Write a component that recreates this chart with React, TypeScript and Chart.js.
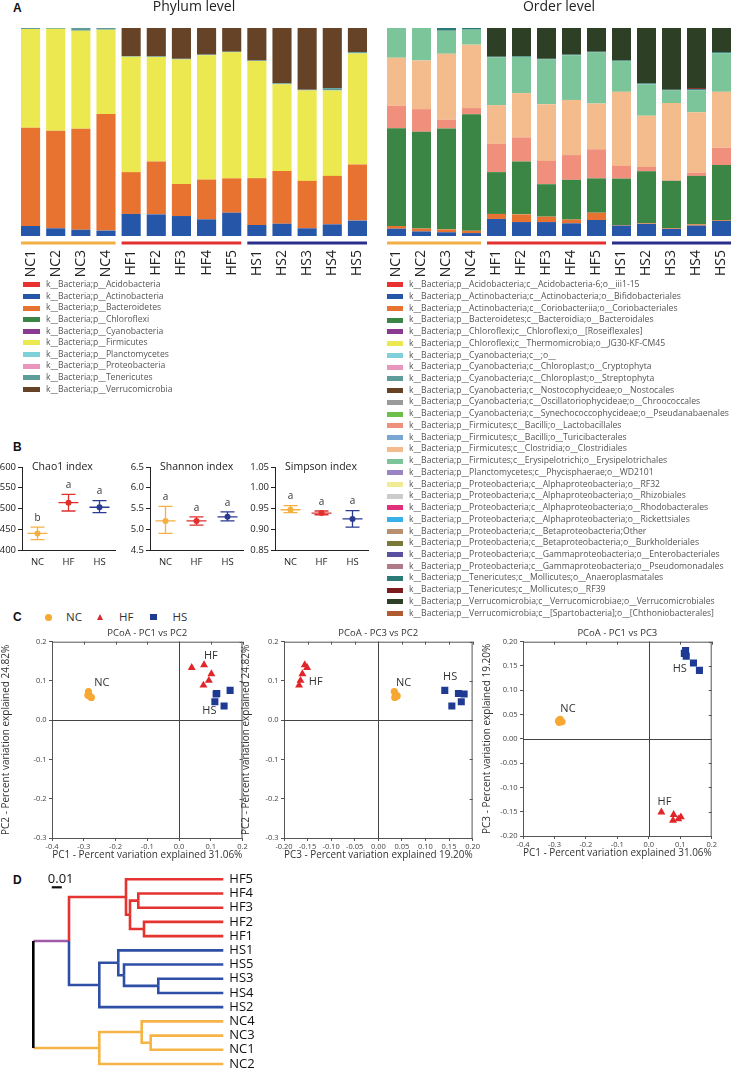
import React, { useEffect, useRef } from 'react';
import { Chart, registerables } from 'chart.js';

Chart.register(...registerables);

const FONT = '"Open Sans", "DejaVu Sans", Arial, sans-serif';
Chart.defaults.font.family = FONT;
Chart.defaults.color = '#333';

// ---------------- Panel A data ----------------
const samples = ['NC1', 'NC2', 'NC3', 'NC4', 'HF1', 'HF2', 'HF3', 'HF4', 'HF5', 'HS1', 'HS2', 'HS3', 'HS4', 'HS5'];
const groupNames = ['NC', 'HF', 'HS'];
const groupSizes = [4, 5, 5];
const groupLineColors = ['#f2b044', '#e2302f', '#2b2f8c'];

const phylumLegend = [
  'k__Bacteria;p__Acidobacteria',
  'k__Bacteria;p__Actinobacteria',
  'k__Bacteria;p__Bacteroidetes',
  'k__Bacteria;p__Chloroflexi',
  'k__Bacteria;p__Cyanobacteria',
  'k__Bacteria;p__Firmicutes',
  'k__Bacteria;p__Planctomycetes',
  'k__Bacteria;p__Proteobacteria',
  'k__Bacteria;p__Tenericutes',
  'k__Bacteria;p__Verrucomicrobia',
];
const phylumColors = ['#e8322f', '#2556a8', '#e87230', '#3b8545', '#8a3a90', '#ece84f', '#7fd0d8', '#e896be', '#5d9c98', '#664326'];

// percent abundance per sample (bottom to top of each bar)
const phylumActinobacteria = [4.8, 3.7, 3.0, 2.6, 10.6, 10.4, 9.6, 8.0, 11.2, 5.3, 5.9, 3.7, 5.6, 7.4];
const phylumBacteroidetes = [47.2, 46.9, 48.6, 56.0, 20.1, 25.4, 15.4, 19.1, 16.5, 22.5, 25.4, 22.8, 23.3, 27.0];
const phylumFirmicutes = [47.5, 49.0, 47.1, 40.6, 55.5, 50.3, 59.9, 59.8, 60.6, 56.3, 41.6, 43.5, 41.1, 53.4];
const phylumTenericutes = [0.5, 0.4, 1.3, 0.8, 0.3, 0.3, 0.3, 0.3, 0.3, 0.3, 0.5, 0.3, 1.1, 0.6];
const phylumVerrucomicrobia = [0, 0, 0, 0, 13.5, 13.6, 14.8, 12.8, 11.4, 15.6, 26.6, 29.7, 28.9, 11.6];

const orderLegend = [
  'k__Bacteria;p__Acidobacteria;c__Acidobacteria-6;o__iii1-15',
  'k__Bacteria;p__Actinobacteria;c__Actinobacteria;o__Bifidobacteriales',
  'k__Bacteria;p__Actinobacteria;c__Coriobacteriia;o__Coriobacteriales',
  'k__Bacteria;p__Bacteroidetes;c__Bacteroidia;o__Bacteroidales',
  'k__Bacteria;p__Chloroflexi;c__Chloroflexi;o__[Roseiflexales]',
  'k__Bacteria;p__Chloroflexi;c__Thermomicrobia;o__JG30-KF-CM45',
  'k__Bacteria;p__Cyanobacteria;c__;o__',
  'k__Bacteria;p__Cyanobacteria;c__Chloroplast;o__Cryptophyta',
  'k__Bacteria;p__Cyanobacteria;c__Chloroplast;o__Streptophyta',
  'k__Bacteria;p__Cyanobacteria;c__Nostocophycideae;o__Nostocales',
  'k__Bacteria;p__Cyanobacteria;c__Oscillatoriophycideae;o__Chroococcales',
  'k__Bacteria;p__Cyanobacteria;c__Synechococcophycideae;o__Pseudanabaenales',
  'k__Bacteria;p__Firmicutes;c__Bacilli;o__Lactobacillales',
  'k__Bacteria;p__Firmicutes;c__Bacilli;o__Turicibacterales',
  'k__Bacteria;p__Firmicutes;c__Clostridia;o__Clostridiales',
  'k__Bacteria;p__Firmicutes;c__Erysipelotrichi;o__Erysipelotrichales',
  'k__Bacteria;p__Planctomycetes;c__Phycisphaerae;o__WD2101',
  'k__Bacteria;p__Proteobacteria;c__Alphaproteobacteria;o__RF32',
  'k__Bacteria;p__Proteobacteria;c__Alphaproteobacteria;o__Rhizobiales',
  'k__Bacteria;p__Proteobacteria;c__Alphaproteobacteria;o__Rhodobacterales',
  'k__Bacteria;p__Proteobacteria;c__Alphaproteobacteria;o__Rickettsiales',
  'k__Bacteria;p__Proteobacteria;c__Betaproteobacteria;Other',
  'k__Bacteria;p__Proteobacteria;c__Betaproteobacteria;o__Burkholderiales',
  'k__Bacteria;p__Proteobacteria;c__Gammaproteobacteria;o__Enterobacteriales',
  'k__Bacteria;p__Proteobacteria;c__Gammaproteobacteria;o__Pseudomonadales',
  'k__Bacteria;p__Tenericutes;c__Mollicutes;o__Anaeroplasmatales',
  'k__Bacteria;p__Tenericutes;c__Mollicutes;o__RF39',
  'k__Bacteria;p__Verrucomicrobia;c__Verrucomicrobiae;o__Verrucomicrobiales',
  'k__Bacteria;p__Verrucomicrobia;c__[Spartobacteria];o__[Chthoniobacterales]',
];
const orderColors = [
  '#e8322f', '#2556a8', '#e87230', '#3b8545', '#8a3a90', '#ece84f', '#7fd0d8', '#e896be', '#5d9c98', '#664326',
  '#9a9a9a', '#6cc04a', '#ef8f7c', '#7aa6d4', '#f4bb8c', '#7cc59b', '#9a84c4', '#f0ec96', '#cccccc', '#e0307a',
  '#3ab0e8', '#b89070', '#7a7a38', '#5a50a0', '#b07a88', '#2c7a78', '#7d1c1c', '#2d3f25', '#b05a30',
];

const orderBifidobacteriales = [3.5, 2.2, 1.8, 1.4, 8.2, 6.7, 6.7, 6.1, 7.7, 5.0, 5.8, 3.4, 5.0, 7.2];
const orderCoriobacteriales = [1.3, 1.4, 1.4, 1.1, 2.4, 3.7, 2.6, 1.8, 3.5, 0.3, 0.3, 0.3, 0.6, 0.3];
const orderBacteroidales = [47.0, 46.5, 48.5, 56.0, 20.1, 25.4, 15.6, 19.1, 16.5, 22.3, 25.0, 22.8, 23.3, 26.6];
const orderLactobacillales = [10.8, 10.9, 4.2, 3.0, 13.6, 11.6, 11.2, 11.9, 14.0, 6.1, 2.1, 0.3, 1.6, 8.3];
const orderClostridiales = [23.1, 23.4, 31.7, 30.5, 18.6, 21.3, 27.3, 26.5, 22.0, 35.6, 24.6, 37.1, 29.0, 26.9];
const orderErysipelotrichales = [14.3, 15.6, 11.1, 7.2, 23.0, 17.4, 21.5, 21.5, 24.6, 14.8, 15.1, 6.1, 10.6, 18.6];
const orderAnaeroplasmatales = [0, 0, 1.3, 0.8, 0.3, 0.3, 0.3, 0.3, 0.3, 0.3, 0.5, 0.3, 0.5, 0.5];
const orderRF39 = [0, 0, 0, 0, 0, 0, 0, 0, 0, 0, 0, 0, 0.5, 0];
const orderVerrucomicrobiales = [0, 0, 0, 0, 13.8, 13.6, 14.8, 12.8, 11.4, 15.6, 26.6, 29.7, 28.9, 11.6];

const phylumStack = [
  { idx: 1, data: phylumActinobacteria },
  { idx: 2, data: phylumBacteroidetes },
  { idx: 5, data: phylumFirmicutes },
  { idx: 8, data: phylumTenericutes },
  { idx: 9, data: phylumVerrucomicrobia },
].map((s) => ({ name: phylumLegend[s.idx], color: phylumColors[s.idx], data: s.data }));

const orderStack = [
  { idx: 1, data: orderBifidobacteriales },
  { idx: 2, data: orderCoriobacteriales },
  { idx: 3, data: orderBacteroidales },
  { idx: 12, data: orderLactobacillales },
  { idx: 14, data: orderClostridiales },
  { idx: 15, data: orderErysipelotrichales },
  { idx: 25, data: orderAnaeroplasmatales },
  { idx: 26, data: orderRF39 },
  { idx: 27, data: orderVerrucomicrobiales },
].map((s) => ({ name: orderLegend[s.idx], color: orderColors[s.idx], data: s.data }));

// ---------------- Panel B data ----------------
const alphaColors = ['#f5b041', '#e0312f', '#2b3a93'];
const chaoMean = [440, 514, 503];
const chaoLow = [425, 494, 490];
const chaoHigh = [455, 534, 519];
const chaoLetters = ['b', 'a', 'a'];
const shannonMean = [5.2, 5.2, 5.3];
const shannonLow = [4.9, 5.1, 5.2];
const shannonHigh = [5.55, 5.3, 5.42];
const shannonLetters = ['a', 'a', 'a'];
const simpsonMean = [0.947, 0.939, 0.925];
const simpsonLow = [0.94, 0.935, 0.905];
const simpsonHigh = [0.957, 0.944, 0.945];
const simpsonLetters = ['a', 'a', 'a'];

// ---------------- Panel C data ----------------
const pcoaColors = ['#f6a832', '#e0262a', '#1f3a93'];
const pc1NC = [-0.285, -0.287, -0.282, -0.276];
const pc2NC = [0.073, 0.064, 0.062, 0.058];
const pc3NC = [0.034, 0.037, 0.040, 0.035];
const pc1HF = [0.040, 0.079, 0.102, 0.094, 0.077];
const pc2HF = [0.134, 0.141, 0.118, 0.101, 0.089];
const pc3HF = [-0.151, -0.156, -0.161, -0.165, -0.168];
const pc1HS = [0.117, 0.119, 0.161, 0.113, 0.142];
const pc2HS = [0.067, 0.068, 0.076, 0.047, 0.036];
const pc3HS = [0.182, 0.170, 0.141, 0.176, 0.156];
const pcoaAxes: Record<string, number[][]> = {
  PC1: [pc1NC, pc1HF, pc1HS],
  PC2: [pc2NC, pc2HF, pc2HS],
  PC3: [pc3NC, pc3HF, pc3HS],
};
const pcoaExplained: Record<string, string> = { PC1: '31.06%', PC2: '24.82%', PC3: '19.20%' };

// ---------------- Panel D data ----------------
const treeLeaves = ['HF5', 'HF4', 'HF3', 'HF2', 'HF1', 'HS1', 'HS5', 'HS3', 'HS4', 'HS2', 'NC4', 'NC3', 'NC1', 'NC2'];
const treeLeafDepth = 0.19;
const treeMergeA = ['HF4', 'HF2', 'm0', 'HF5', 'HS3', 'HS5', 'HS1', 'm6', 'm3', 'NC3', 'NC4', 'm10', 'm8'];
const treeMergeB = ['HF3', 'HF1', 'm1', 'm2', 'HS4', 'm4', 'm5', 'HS2', 'm7', 'NC1', 'm9', 'NC2', 'm11'];
const treeMergeDepth = [0.105, 0.1107, 0.0967, 0.0927, 0.125, 0.0907, 0.085, 0.066, 0.0357, 0.1174, 0.1084, 0.066, 0];
const treeColors = ['#f7b446', '#e5332f', '#2f4fa6'];
const treeMixColor = '#a05aa8';
const treeRootColor = '#000000';
const treeScaleBar = 0.01;

// ---------------- plugins ----------------
const groupLinePlugin = {
  id: 'groupLines',
  afterDraw(chart: any, _a: any, o: any) {
    const ctx = chart.ctx;
    const xs = chart.scales.x;
    const bw = chart.getDatasetMeta(0).data[0].width;
    let start = 0;
    groupSizes.forEach((n, g) => {
      const l = xs.getPixelForValue(start) - bw / 2;
      const r = xs.getPixelForValue(start + n - 1) + bw / 2;
      const y = chart.chartArea.bottom + o.gap;
      ctx.save();
      ctx.strokeStyle = groupLineColors[g];
      ctx.lineWidth = 3;
      ctx.beginPath();
      ctx.moveTo(l, y);
      ctx.lineTo(r, y);
      ctx.stroke();
      ctx.restore();
      start += n;
    });
  },
};

const errorBarPlugin = {
  id: 'errorBars',
  beforeDatasetsDraw(chart: any, _a: any, o: any) {
    const ctx = chart.ctx;
    const xs = chart.scales.x;
    const ys = chart.scales.y;
    const mean = chart.data.datasets[0].data;
    ctx.save();
    mean.forEach((m: number, i: number) => {
      const cx = xs.getPixelForValue(i);
      const yl = ys.getPixelForValue(o.low[i]);
      const yh = ys.getPixelForValue(o.high[i]);
      const ym = ys.getPixelForValue(m);
      ctx.strokeStyle = alphaColors[i];
      ctx.lineWidth = 1.3;
      ctx.beginPath();
      ctx.moveTo(cx, yl);
      ctx.lineTo(cx, yh);
      ctx.moveTo(cx - 7, yl);
      ctx.lineTo(cx + 7, yl);
      ctx.moveTo(cx - 7, yh);
      ctx.lineTo(cx + 7, yh);
      ctx.moveTo(cx - 10, ym);
      ctx.lineTo(cx + 10, ym);
      ctx.stroke();
      ctx.fillStyle = '#333';
      ctx.font = `10px ${FONT}`;
      ctx.textAlign = 'center';
      ctx.textBaseline = 'middle';
      ctx.fillText(o.letters[i], cx, yh - 9);
    });
    ctx.fillStyle = '#222';
    ctx.font = `10.5px ${FONT}`;
    ctx.textAlign = 'left';
    ctx.textBaseline = 'middle';
    ctx.fillText(o.title, chart.chartArea.left + 10, chart.chartArea.top);
    ctx.restore();
  },
};

const pcoaPlugin = {
  id: 'pcoaFrame',
  beforeDatasetsDraw(chart: any, _a: any, o: any) {
    const ctx = chart.ctx;
    const ca = chart.chartArea;
    const xs = chart.scales.x;
    const ys = chart.scales.y;
    ctx.save();
    ctx.strokeStyle = '#555';
    ctx.lineWidth = 1;
    ctx.beginPath();
    ctx.moveTo(ca.left, ca.top + 0.5);
    ctx.lineTo(ca.right, ca.top + 0.5);
    ctx.moveTo(ca.right - 0.5, ca.top);
    ctx.lineTo(ca.right - 0.5, ca.bottom);
    xs.ticks.forEach((t: any) => {
      const px = Math.round(xs.getPixelForValue(t.value)) + 0.5;
      ctx.moveTo(px, ca.top);
      ctx.lineTo(px, ca.top + 3);
    });
    ys.ticks.forEach((t: any) => {
      const py = Math.round(ys.getPixelForValue(t.value)) + 0.5;
      ctx.moveTo(ca.right, py);
      ctx.lineTo(ca.right - 3, py);
    });
    ctx.stroke();
    ctx.strokeStyle = '#444';
    ctx.beginPath();
    const x0 = Math.round(xs.getPixelForValue(0)) + 0.5;
    const y0 = Math.round(ys.getPixelForValue(0)) + 0.5;
    ctx.moveTo(x0, ca.top);
    ctx.lineTo(x0, ca.bottom);
    ctx.moveTo(ca.left, y0);
    ctx.lineTo(ca.right, y0);
    ctx.stroke();
    ctx.fillStyle = '#333';
    ctx.font = `9.5px ${FONT}`;
    ctx.textAlign = 'center';
    ctx.textBaseline = 'middle';
    ctx.fillText(o.title, (ca.left + ca.right) / 2, ca.top - 8);
    ctx.restore();
  },
  afterDatasetsDraw(chart: any, _a: any, o: any) {
    const ctx = chart.ctx;
    ctx.save();
    ctx.fillStyle = '#333';
    ctx.font = `11px ${FONT}`;
    ctx.textAlign = 'center';
    ctx.textBaseline = 'middle';
    chart.data.datasets.forEach((ds: any, i: number) => {
      const pts = chart.getDatasetMeta(i).data;
      const cx = pts.reduce((s: number, p: any) => s + p.x, 0) / pts.length;
      const cy = pts.reduce((s: number, p: any) => s + p.y, 0) / pts.length;
      ctx.fillText(ds.label, cx + o.offsets[i][0], cy + o.offsets[i][1]);
    });
    ctx.restore();
  },
};

const treePlugin = {
  id: 'treeLabels',
  afterDraw(chart: any) {
    const ctx = chart.ctx;
    const xs = chart.scales.x;
    const ys = chart.scales.y;
    ctx.save();
    ctx.fillStyle = '#111';
    ctx.font = `13px ${FONT}`;
    ctx.textAlign = 'left';
    ctx.textBaseline = 'middle';
    treeLeaves.forEach((n, i) => {
      ctx.fillText(n, xs.getPixelForValue(treeLeafDepth) + 6, ys.getPixelForValue(i));
    });
    // scale bar
    const len = xs.getPixelForValue(treeScaleBar) - xs.getPixelForValue(0);
    const bx = chart.chartArea.left + 28.5;
    const by = ys.getPixelForValue(0);
    ctx.font = `13px ${FONT}`;
    ctx.fillStyle = '#111';
    ctx.fillText(String(treeScaleBar), bx - 4, by);
    ctx.strokeStyle = '#111';
    ctx.lineWidth = 2.2;
    ctx.beginPath();
    ctx.moveTo(bx, by + 8);
    ctx.lineTo(bx + len, by + 8);
    ctx.stroke();
    ctx.restore();
  },
};

function noSidePadding(s: any) {
  s.paddingLeft = 0;
  s.paddingRight = 0;
}

// ---------------- configs ----------------
function stackedConfig(title: string, stack: { name: string; color: string; data: number[] }[], padLeft: number, padRight: number) {
  return {
    type: 'bar',
    data: {
      labels: samples,
      datasets: stack.map((s) => ({
        label: s.name,
        data: s.data,
        backgroundColor: s.color,
        borderWidth: 0,
        barPercentage: 0.76,
        categoryPercentage: 1,
      })),
    },
    options: {
      responsive: false,
      animation: false,
      layout: { padding: { left: padLeft, right: padRight, top: 0, bottom: 0 } },
      plugins: {
        legend: { display: false },
        tooltip: { enabled: false },
        title: {
          display: true,
          text: title,
          color: '#222',
          font: { family: FONT, size: 14, weight: 'normal' },
          padding: { top: 0, bottom: 12.2 },
        },
        groupLines: { gap: 7 },
      },
      scales: {
        x: {
          stacked: true,
          grid: { display: false, drawTicks: false },
          border: { display: false },
          ticks: { minRotation: 90, maxRotation: 90, autoSkip: false, padding: 14, color: '#222', font: { family: FONT, size: 14 } },
          afterFit: (s: any) => {
            s.height = 46;
            noSidePadding(s);
          },
        },
        y: { stacked: true, display: false, min: 0, max: 100 },
      },
    },
    plugins: [groupLinePlugin],
  };
}

function fmt(v: number, d: number) {
  const n = Math.abs(v) < 1e-9 ? 0 : v;
  return n.toFixed(d);
}

function indexConfig(
  title: string,
  mean: number[],
  low: number[],
  high: number[],
  letters: string[],
  min: number,
  max: number,
  step: number,
  dec: number,
  yWidth: number,
  padRight: number
) {
  return {
    type: 'line',
    data: {
      labels: groupNames,
      datasets: [
        {
          data: mean,
          showLine: false,
          pointRadius: 3,
          pointHoverRadius: 3,
          pointBackgroundColor: alphaColors,
          pointBorderWidth: 0,
        },
      ],
    },
    options: {
      responsive: false,
      animation: false,
      layout: { padding: { top: 12, right: padRight, left: 0, bottom: 0 } },
      plugins: { legend: { display: false }, tooltip: { enabled: false }, errorBars: { title, low, high, letters } },
      scales: {
        x: {
          offset: true,
          grid: { display: false, drawTicks: false },
          border: { color: '#222' },
          ticks: { padding: 7, color: '#222', font: { size: 9.5 } },
          afterFit: (s: any) => {
            s.height = 22;
            noSidePadding(s);
          },
        },
        y: {
          min,
          max,
          ticks: { stepSize: step, padding: 2, color: '#222', font: { size: 9.5 }, callback: (v: any) => fmt(Number(v), dec) },
          grid: { drawOnChartArea: false, tickLength: 4, color: '#222' },
          border: { color: '#222' },
          afterFit: (s: any) => {
            s.width = yWidth;
          },
        },
      },
    },
    plugins: [errorBarPlugin],
  };
}

const markerStyles = ['circle', 'triangle', 'rect'];
const markerRadius = [3.6, 4.6, 5];

function pcoaConfig(
  xKey: string,
  yKey: string,
  xr: [number, number, number, number],
  yr: [number, number, number, number],
  yWidth: number,
  yTitlePad: number,
  padRight: number,
  offsets: number[][]
) {
  return {
    type: 'scatter',
    data: {
      datasets: groupNames.map((g, i) => ({
        label: g,
        data: pcoaAxes[xKey][i].map((v, j) => ({ x: v, y: pcoaAxes[yKey][i][j] })),
        pointStyle: markerStyles[i],
        pointRadius: markerRadius[i],
        pointHoverRadius: markerRadius[i],
        backgroundColor: pcoaColors[i],
        borderWidth: 0,
      })),
    },
    options: {
      responsive: false,
      animation: false,
      layout: { padding: { top: 19.7, right: padRight, left: 0, bottom: 0 } },
      plugins: {
        legend: { display: false },
        tooltip: { enabled: false },
        pcoaFrame: { title: `PCoA - ${xKey} vs ${yKey}`, offsets },
      },
      scales: {
        x: {
          type: 'linear',
          min: xr[0],
          max: xr[1],
          ticks: { stepSize: xr[2], padding: 1, color: '#444', font: { size: 7.5 }, callback: (v: any) => fmt(Number(v), xr[3]) },
          grid: { drawOnChartArea: false, tickLength: 3, color: '#555' },
          border: { color: '#555' },
          title: {
            display: true,
            text: `${xKey} - Percent variation explained ${pcoaExplained[xKey]}`,
            color: '#333',
            font: { size: 10 },
            padding: { top: 0, bottom: 5 },
          },
          afterFit: (s: any) => {
            s.height = 28;
            noSidePadding(s);
          },
        },
        y: {
          type: 'linear',
          min: yr[0],
          max: yr[1],
          ticks: { stepSize: yr[2], padding: 2.5, color: '#444', font: { size: 7.5 }, callback: (v: any) => fmt(Number(v), yr[3]) },
          grid: { drawOnChartArea: false, tickLength: 3, color: '#555' },
          border: { color: '#555' },
          title: {
            display: true,
            text: `${yKey} - Percent variation explained ${pcoaExplained[yKey]}`,
            color: '#333',
            font: { size: 10 },
            padding: { top: yTitlePad, bottom: 0 },
          },
          afterFit: (s: any) => {
            s.width = yWidth;
          },
        },
      },
    },
    plugins: [pcoaPlugin],
  };
}

function treeSegments() {
  const pos: Record<string, { x: number; y: number; color: string }> = {};
  treeLeaves.forEach((n, i) => {
    pos[n] = { x: treeLeafDepth, y: i, color: treeColors[groupNames.indexOf(n.slice(0, 2))] };
  });
  const segs: { pts: { x: number; y: number }[]; color: string }[] = [];
  const rootSegs: typeof segs = [];
  const last = treeMergeDepth.length - 1;
  treeMergeDepth.forEach((d, k) => {
    const a = pos[treeMergeA[k]];
    const b = pos[treeMergeB[k]];
    const isRoot = k === last;
    const color = a.color === b.color ? a.color : isRoot ? treeRootColor : treeMixColor;
    const node = { x: d, y: (a.y + b.y) / 2, color };
    [a, b].forEach((c) => {
      if (isRoot) segs.push({ pts: [{ x: d, y: c.y }, { x: c.x, y: c.y }], color: c.color });
      else segs.push({ pts: [{ x: d, y: node.y }, { x: d, y: c.y }, { x: c.x, y: c.y }], color: c.color });
    });
    if (isRoot) rootSegs.push({ pts: [{ x: d, y: a.y }, { x: d, y: b.y }], color: treeRootColor });
    pos['m' + k] = node;
  });
  return [...rootSegs, ...segs];
}

function treeConfig() {
  return {
    type: 'scatter',
    data: {
      datasets: treeSegments().map((s) => ({
        data: s.pts,
        showLine: true,
        borderColor: s.color,
        borderWidth: 2.6,
        borderJoinStyle: 'miter',
        pointRadius: 0,
        pointHoverRadius: 0,
        clip: false,
        tension: 0,
      })),
    },
    options: {
      responsive: false,
      animation: false,
      layout: { padding: { left: 23.3, right: 156.7, top: 17.3, bottom: 5 } },
      plugins: { legend: { display: false }, tooltip: { enabled: false } },
      scales: {
        x: { type: 'linear', display: false, min: -0.01, max: 0.19 },
        y: { type: 'linear', display: false, min: 0, max: 13, reverse: true },
      },
    },
    plugins: [treePlugin],
  };
}

// ---------------- components ----------------
function ChartBox({ left, top, width, height, make }: { left: number; top: number; width: number; height: number; make: () => any }) {
  const ref = useRef<HTMLCanvasElement>(null);
  useEffect(() => {
    const chart = new Chart(ref.current as HTMLCanvasElement, make());
    return () => chart.destroy();
  }, []);
  return (
    <canvas
      ref={ref}
      width={width}
      height={height}
      style={{ position: 'absolute', left, top, width, height, display: 'block' }}
    />
  );
}

function Txt({ x, y, size, bold, color, children }: { x: number; y: number; size: number; bold?: boolean; color?: string; children: any }) {
  return (
    <span
      style={{
        position: 'absolute',
        left: x,
        top: y,
        transform: 'translateY(-50%)',
        fontSize: size,
        lineHeight: 1,
        fontWeight: bold ? 700 : 400,
        fontFamily: bold ? '"Liberation Sans", Arial, sans-serif' : FONT,
        color: color || '#333',
        whiteSpace: 'nowrap',
      }}
    >
      {children}
    </span>
  );
}

function Legend({ left, top, rowH, names, colors, sw, size }: { left: number; top: number; rowH: number; names: string[]; colors: string[]; sw: number; size: number }) {
  return (
    <div style={{ position: 'absolute', left, top: top - rowH / 2 }}>
      {names.map((n, i) => (
        <div key={n} style={{ height: rowH, display: 'flex', alignItems: 'center', whiteSpace: 'nowrap' }}>
          <span style={{ display: 'inline-block', width: sw, height: 5, background: colors[i], marginRight: 6, flex: 'none' }} />
          <span style={{ fontFamily: FONT, fontSize: size, color: '#555', lineHeight: `${rowH}px` }}>{n}</span>
        </div>
      ))}
    </div>
  );
}

export default function App() {
  return (
    <div
      style={{
        position: 'absolute',
        left: 0,
        top: 0,
        width: 734,
        height: 1069,
        background: '#fff',
        overflow: 'hidden',
        fontFamily: FONT,
      }}
    >
      {/* Panel A */}
      <Txt x={13} y={7.5} size={12} bold color="#111">A</Txt>
      <ChartBox left={0} top={-1} width={380} height={283} make={() => stackedConfig('Phylum level', phylumStack, 18, 10)} />
      <ChartBox left={380} top={-1} width={354} height={283} make={() => stackedConfig('Order level', orderStack, 4, 0)} />
      <Legend left={23} top={285} rowH={11.6} names={phylumLegend} colors={phylumColors} sw={17} size={8.6} />
      <Legend left={387} top={285} rowH={11.74} names={orderLegend} colors={orderColors} sw={16} size={8.65} />

      {/* Panel B */}
      <Txt x={13} y={447} size={12} bold color="#111">B</Txt>
      <ChartBox
        left={0}
        top={455}
        width={120}
        height={117}
        make={() => indexConfig('Chao1 index', chaoMean, chaoLow, chaoHigh, chaoLetters, 400, 600, 50, 0, 22, 5)}
      />
      <ChartBox
        left={125}
        top={455}
        width={122}
        height={117}
        make={() => indexConfig('Shannon index', shannonMean, shannonLow, shannonHigh, shannonLetters, 4.5, 6.5, 0.5, 1, 25, 4)}
      />
      <ChartBox
        left={245}
        top={455}
        width={127}
        height={117}
        make={() => indexConfig('Simpson index', simpsonMean, simpsonLow, simpsonHigh, simpsonLetters, 0.85, 1.05, 0.05, 2, 30, 4)}
      />

      {/* Panel C */}
      <Txt x={13} y={617} size={12} bold color="#111">C</Txt>
      <span style={{ position: 'absolute', left: 44.5, top: 613.5, width: 7, height: 7, borderRadius: '50%', background: pcoaColors[0] }} />
      <Txt x={66} y={617} size={11.5}>NC</Txt>
      <span
        style={{
          position: 'absolute',
          left: 97,
          top: 613.5,
          width: 0,
          height: 0,
          borderLeft: '3.6px solid transparent',
          borderRight: '3.6px solid transparent',
          borderBottom: `6.5px solid ${pcoaColors[1]}`,
        }}
      />
      <Txt x={119} y={617} size={11.5}>HF</Txt>
      <span style={{ position: 'absolute', left: 150, top: 613.7, width: 6.6, height: 6.6, background: pcoaColors[2] }} />
      <Txt x={172.5} y={617} size={11.5}>HS</Txt>

      <ChartBox
        left={0}
        top={622}
        width={250}
        height={244}
        make={() => pcoaConfig('PC1', 'PC2', [-0.4, 0.2, 0.1, 1], [-0.3, 0.2, 0.1, 1], 52, 0, 7.5, [[12.5, -12.5], [7, -19], [-11, 14]])}
      />
      <ChartBox
        left={232}
        top={622}
        width={250}
        height={244}
        make={() => pcoaConfig('PC3', 'PC2', [-0.2, 0.2, 0.05, 2], [-0.3, 0.2, 0.1, 1], 52, 8, 9.4, [[8, -12], [13, 7], [-6, -20]])}
      />
      <ChartBox
        left={478}
        top={622}
        width={256}
        height={242}
        make={() => pcoaConfig('PC1', 'PC3', [-0.4, 0.2, 0.1, 1], [-0.2, 0.2, 0.05, 2], 45, 2.7, 22.3, [[8, -12], [-9, -15], [-10, 10]])}
      />

      {/* Panel D */}
      <Txt x={13} y={879.5} size={12} bold color="#111">D</Txt>
      <ChartBox left={0} top={862} width={380} height={207} make={treeConfig} />
    </div>
  );
}
